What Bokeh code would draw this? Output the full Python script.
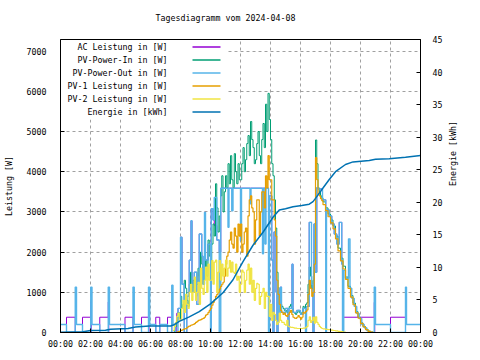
import math
from bokeh.plotting import figure
from bokeh.models import Range1d, LinearAxis, FixedTicker, Label, BoxAnnotation, Arrow
from bokeh.embed import file_html
from bokeh.resources import INLINE

# ---------------- texts ----------------
title_text = "Tagesdiagramm vom 2024-04-08"
y_label = "Leistung [W]"
y2_label = "Energie [kWh]"
series_names = ["AC Leistung in [W]", "PV-Power-In in [W]", "PV-Power-Out in [W]",
                "PV-1 Leistung in [W]", "PV-2 Leistung in [W]", "Energie in [kWh]"]
series_colors = ["#9400D3", "#009E73", "#56B4E9", "#E69F00", "#F0E442", "#0072B2"]

# ---------------- ticks ----------------
x_ticks = [0, 2, 4, 6, 8, 10, 12, 14, 16, 18, 20, 22, 24]
x_tick_labels = ["00:00", "02:00", "04:00", "06:00", "08:00", "10:00", "12:00",
                 "14:00", "16:00", "18:00", "20:00", "22:00", "00:00"]
y_ticks = [0, 1000, 2000, 3000, 4000, 5000, 6000, 7000]
y2_ticks = [0, 5, 10, 15, 20, 25, 30, 35, 40, 45]

# ---------------- data ----------------
ac_times = ["00:00", "00:24", "00:59", "01:28", "02:01", "02:03", "02:37", "03:11", "03:13",
            "04:18", "04:50", "05:24", "05:52", "05:54", "06:21", "06:37", "07:08", "07:25",
            "07:45", "07:50", "08:00", "08:06", "08:15", "08:25", "08:35", "08:42", "08:46",
            "08:55", "09:05", "09:15", "09:25", "09:30", "09:36", "09:40", "09:50", "10:00",
            "10:03", "10:10", "10:15", "10:25", "10:35", "10:41", "13:52", "13:56", "14:05",
            "14:10", "14:14", "14:22", "14:26", "14:30", "14:36", "14:40", "14:44", "15:00",
            "15:10", "15:14", "15:26", "15:30", "15:45", "16:00", "16:10", "16:20", "16:24",
            "16:35", "16:44", "16:50", "16:54", "16:58", "17:05", "17:11", "17:28", "17:41",
            "17:44", "17:55", "18:05", "18:15", "18:25", "18:35", "18:45", "18:48", "18:49",
            "20:55", "20:57", "22:00", "23:00", "24:00"]
ac_watts = [0, 380, 0, 380, 760, 0, 380, 760, 0,
            380, 0, 380, 760, 0, 380, 0, 380, 0,
            480, 600, 2370, 1200, 0, 900, 1800, 2780, 1000,
            1500, 700, 2450, 1900, 1200, 2990, 1800, 2200, 0,
            3080, 2800, 2660, 2300, 2000, 3590, 0, 3400, 1800,
            0, 2500, 1000, 0, 1100, 500, 1130, 500, 600,
            0, 600, 1700, 500, 550, 450, 600, 0, 650,
            2740, 1200, 0, 2700, 1500, 3600, 3570, 3300, 1975,
            3050, 2900, 2700, 2450, 2200, 2740, 1700, 1100, 380,
            750, 0, 380, 0, 0]

out_times = ["00:00", "00:24", "00:59", "01:04", "01:28", "02:01", "02:06", "02:37", "03:11",
             "03:16", "04:18", "04:50", "04:55", "05:24", "05:52", "05:57", "06:21", "06:37",
             "07:08", "07:25", "07:30", "07:40", "07:50", "08:00", "08:06", "08:15", "08:25",
             "08:35", "08:42", "08:46", "08:55", "09:05", "09:15", "09:25", "09:30", "09:36",
             "09:40", "09:50", "10:00", "10:03", "10:10", "10:15", "10:25", "10:35", "10:41",
             "11:10", "11:14", "11:25", "11:30", "12:00", "12:04", "12:38", "12:42", "13:28",
             "13:32", "13:38", "13:42", "13:52", "13:56", "14:05", "14:10", "14:14", "14:22",
             "14:26", "14:30", "14:36", "14:40", "14:44", "15:00", "15:10", "15:14", "15:26",
             "15:30", "15:45", "16:00", "16:10", "16:20", "16:24", "16:35", "16:44", "16:50",
             "16:54", "16:58", "17:05", "17:11", "17:28", "17:41", "17:44", "17:55", "18:05",
             "18:15", "18:25", "18:35", "18:45", "18:48", "18:53", "19:00", "19:12", "19:18",
             "19:25", "19:35", "19:45", "19:55", "20:05", "20:15", "20:25", "20:32", "20:55",
             "21:00", "22:00", "23:00", "23:04", "24:00"]
out_watts = [200, 0, 1130, 200, 0, 1130, 200, 0, 1130,
             200, 0, 1130, 200, 0, 1130, 200, 0, 200,
             0, 1175, 200, 0, 600, 2370, 1200, 0, 900,
             1800, 2780, 1000, 1500, 700, 2450, 1900, 1200, 2990,
             1800, 2200, 0, 3080, 2800, 3360, 2300, 0, 3590,
             2620, 3590, 3030, 3590, 2290, 3590, 3200, 3590, 1960,
             3590, 2200, 3590, 0, 3400, 1800, 0, 2500, 1000,
             0, 1100, 500, 1130, 500, 600, 0, 600, 1700,
             500, 550, 450, 600, 0, 650, 2740, 1200, 0,
             2700, 1500, 3600, 3570, 3300, 0, 3050, 2900, 2700,
             2450, 2200, 2740, 1700, 0, 1550, 1350, 2330, 1100,
             850, 650, 470, 350, 200, 120, 50, 0, 1130,
             200, 0, 1130, 200, 200]

day_times = ["07:30", "07:35", "07:40", "07:45", "07:50", "07:55",
             "08:00", "08:05", "08:10", "08:15", "08:20", "08:25", "08:30", "08:35", "08:40", "08:45", "08:50", "08:55",
             "09:00", "09:05", "09:10", "09:15", "09:20", "09:25", "09:30", "09:35", "09:40", "09:45", "09:50", "09:55",
             "10:00", "10:05", "10:10", "10:15", "10:20", "10:25", "10:30", "10:35", "10:40", "10:45", "10:50", "10:55",
             "11:00", "11:05", "11:10", "11:15", "11:20", "11:25", "11:30", "11:35", "11:40", "11:45", "11:50", "11:55",
             "12:00", "12:05", "12:10", "12:15", "12:20", "12:25", "12:30", "12:35", "12:40", "12:45", "12:50", "12:55",
             "13:00", "13:05", "13:10", "13:15", "13:20", "13:25", "13:30", "13:35", "13:40", "13:45", "13:50", "13:55",
             "14:00", "14:05", "14:10", "14:15", "14:20", "14:25", "14:30", "14:35", "14:40", "14:45", "14:50", "14:55",
             "15:00", "15:05", "15:10", "15:15", "15:20", "15:25", "15:30", "15:35", "15:40", "15:45", "15:50", "15:55",
             "16:00", "16:05", "16:10", "16:15", "16:20", "16:25", "16:30", "16:35", "16:40", "16:45", "16:50", "16:55",
             "17:00", "17:05", "17:10", "17:15", "17:20", "17:25", "17:30",
             "17:40", "17:50", "18:00", "18:10", "18:20", "18:30", "18:40", "18:50",
             "19:00", "19:10", "19:20", "19:30", "19:40", "19:50",
             "20:00", "20:10", "20:20", "20:30", "20:40", "20:50", "21:00"]
pv_in_watts = [0, 60, 150, 300, 500, 350,
               900, 600, 700, 1300, 1100, 800, 650, 1200, 1500, 1000, 1300, 1100,
               900, 1200, 1600, 1400, 2000, 1700, 1200, 1500, 1800, 1400, 2300, 1900,
               1800, 2200, 2700, 2400, 3700, 3100, 2500, 2900, 3400, 3900, 3000, 3500,
               3900, 3600, 4200, 3700, 4400, 3800, 3600, 4450, 4000, 3700, 4200, 3800,
               3800, 4200, 4600, 4000, 4300, 4700, 4900, 4400, 5250, 4800, 4600, 4200,
               4300, 4700, 5000, 4400, 4200, 4800, 5200, 4600, 5680, 5000, 5950, 5300,
               4800, 4200, 3900, 3300, 2600, 1500, 1100, 800, 700, 650, 600, 550,
               550, 500, 600, 650, 700, 600, 500, 480, 450, 500, 550, 500,
               450, 500, 650, 600, 700, 740, 1200, 1630, 1400, 1100, 1300, 1800,
               4790, 4200, 3600, 3500, 3400, 3350, 3250,
               3100, 2950, 2800, 2650, 2400, 2100, 1850, 1650,
               1380, 1150, 920, 730, 520, 380,
               240, 150, 80, 35, 12, 0, 0]
pv1_watts = [0, 0, 0, 10, 20, 30,
             50, 60, 80, 90, 100, 120, 150, 160, 180, 190, 200, 220,
             250, 270, 300, 310, 320, 340, 350, 380, 430, 450, 500, 550,
             600, 680, 750, 820, 900, 950, 1000, 1080, 1150, 1200, 1250, 1400,
             1700, 1900, 2000, 2300, 2500, 2200, 2100, 2600, 2400, 2000, 2700, 2400,
             2700, 2000, 2200, 2500, 2600, 1900, 2900, 3300, 3400, 3100, 3000, 2200,
             2800, 3300, 3300, 2400, 3000, 3500, 3500, 3100, 3900, 3600, 4400, 3800,
             3800, 3300, 3300, 2800, 2400, 1300, 950, 700, 550, 500, 450, 480,
             420, 400, 450, 500, 550, 450, 380, 360, 350, 380, 420, 380,
             330, 380, 500, 480, 520, 560, 950, 1300, 1100, 900, 1000, 1700,
             4350, 3800, 3450, 3400, 3330, 3280, 3180,
             3030, 2880, 2730, 2580, 2330, 2030, 1780, 1580,
             1320, 1100, 880, 690, 490, 360,
             225, 140, 70, 30, 10, 0, 0]
pv2_watts = [50, 150, 250, 400, 480, 300,
             300, 600, 800, 500, 950, 700, 600, 1000, 1200, 800, 1000, 1380,
             800, 1000, 1250, 700, 1600, 1100, 950, 1300, 1630, 1000, 1700, 1300,
             1300, 1790, 1200, 1750, 1800, 1000, 1500, 1790, 1300, 1700, 1400, 1600,
             1800, 1400, 1600, 1790, 1500, 1750, 1500, 1470, 1700, 1300, 1400, 1000,
             1200, 1550, 1500, 1000, 1300, 1550, 1700, 1200, 1600, 1000, 1300, 800,
             1100, 1220, 1200, 700, 900, 1000, 1100, 600, 1000, 900, 900, 400,
             700, 300, 500, 450, 300, 200, 250, 480, 300, 250, 250, 200,
             180, 300, 150, 140, 130, 130, 120, 110, 110, 100, 100, 100,
             100, 100, 110, 110, 120, 150, 300, 390, 250, 300, 380, 230,
             390, 250, 200, 150, 120, 100, 90,
             80, 70, 60, 50, 40, 30, 20, 10,
             0, 0, 0, 0, 0, 0,
             0, 0, 0, 0, 0, 0, 0]

energy_times = ["00:00", "01:30", "02:00", "03:00", "03:20", "04:30", "05:00", "05:55", "07:20",
                "07:35", "07:55", "08:35", "09:15", "10:00", "10:50", "11:30", "12:10", "12:50",
                "13:30", "14:10", "14:35", "15:00", "15:30", "16:05", "16:35", "16:50", "17:00",
                "17:30", "17:55", "18:20", "19:00", "19:30", "20:35", "21:00", "21:55", "23:00",
                "24:00"]
energy_kwh = [0.05, 0.1, 0.3, 0.35, 0.5, 0.6, 0.85, 1.0, 1.0,
              1.2, 1.7, 2.4, 3.2, 4.4, 6.1, 8.1, 10.9, 13.4,
              15.4, 17.7, 18.8, 19.0, 19.3, 19.5, 19.7, 20.1, 20.6,
              22.2, 23.5, 24.7, 25.8, 26.2, 26.4, 26.6, 26.7, 26.9,
              27.2]


def hours(times):
    return [int(t[:2]) + int(t[3:]) / 60.0 for t in times]


FONT = "DejaVu Sans Mono"
FSIZE = "8.3px"

p = figure(frame_width=360, frame_height=293,
           x_range=Range1d(0, 24), y_range=Range1d(0, 7290),
           output_backend="svg", toolbar_location=None,
           min_border_left=58, min_border_right=62, min_border_top=39, min_border_bottom=28,
           background_fill_color="white", border_fill_color="white")
p.extra_y_ranges = {"energy": Range1d(0, 45)}
p.outline_line_color = "black"
p.outline_line_width = 1

# grid
p.xgrid.ticker = FixedTicker(ticks=x_ticks)
p.ygrid.ticker = FixedTicker(ticks=y_ticks)
for g in (p.xgrid[0], p.ygrid[0]):
    g.grid_line_color = "#a0a0a0"
    g.grid_line_dash = "3 3"
    g.grid_line_width = 1

# axes
p.xaxis.ticker = FixedTicker(ticks=x_ticks)
p.xaxis.major_label_overrides = {t: lab for t, lab in zip(x_ticks, x_tick_labels)}
p.yaxis.ticker = FixedTicker(ticks=y_ticks)
p.yaxis.axis_label = y_label
ax2 = LinearAxis(y_range_name="energy", ticker=FixedTicker(ticks=y2_ticks))
p.add_layout(ax2, "right")

for ax, standoff, lstand in ((p.xaxis[0], 6, 5), (p.yaxis[0], 14, 10), (ax2, 12, 9)):
    ax.major_tick_in = 4
    ax.major_tick_out = 0
    ax.minor_tick_line_color = None
    ax.axis_line_color = "black"
    ax.major_tick_line_color = "black"
    ax.major_label_text_font = FONT
    ax.major_label_text_font_size = FSIZE
    ax.major_label_text_color = "black"
    ax.major_label_standoff = standoff
    ax.axis_label_text_font = FONT
    ax.axis_label_text_font_size = FSIZE
    ax.axis_label_text_font_style = "normal"
    ax.axis_label_text_color = "black"
    ax.axis_label_standoff = lstand

# right-hand axis title, reading bottom-to-top like the left one
ax_title = LinearAxis(y_range_name="energy", ticker=FixedTicker(ticks=[22.5]),
                      major_label_overrides={22.5: y2_label},
                      major_label_orientation=math.pi / 2,
                      axis_line_color=None, major_tick_line_color=None,
                      minor_tick_line_color=None, major_label_standoff=1,
                      major_label_text_font=FONT, major_label_text_font_size=FSIZE,
                      major_label_text_color="black")
p.add_layout(ax_title, "right")

# chart title, placed above the frame
title_axis = LinearAxis(ticker=FixedTicker(ticks=[11]),
                        major_label_overrides={11: title_text},
                        axis_line_color=None, major_tick_line_color=None,
                        minor_tick_line_color=None, major_label_standoff=11,
                        major_label_text_font=FONT, major_label_text_font_size=FSIZE,
                        major_label_text_color="black")
p.add_layout(title_axis, "above")

# series (drawn in legend order)
p.step(hours(ac_times), ac_watts, mode="after", line_color=series_colors[0], line_width=1.0)
p.step(hours(day_times), pv_in_watts, mode="after", line_color=series_colors[1], line_width=1.0)
p.step(hours(out_times), out_watts, mode="after", line_color=series_colors[2], line_width=1.4)
p.step(hours(day_times), pv1_watts, mode="after", line_color=series_colors[3], line_width=1.2)
p.step(hours(day_times), pv2_watts, mode="after", line_color=series_colors[4], line_width=1.2)
p.line(hours(energy_times), energy_kwh, y_range_name="energy",
       line_color=series_colors[5], line_width=1.5)

# key box (opaque, no border)
p.add_layout(BoxAnnotation(left=0.5, right=166, top=292.5, bottom=213,
                           left_units="screen", right_units="screen",
                           top_units="screen", bottom_units="screen",
                           fill_color="white", fill_alpha=1.0, line_color=None))
for i, (name, col) in enumerate(zip(series_names, series_colors)):
    sy = 285.5 - 13 * i
    p.add_layout(Label(x=107, y=sy, x_units="screen", y_units="screen", text=name,
                       text_font=FONT, text_font_size=FSIZE, text_align="right",
                       text_baseline="middle", text_color="black"))
    p.add_layout(Arrow(x_start=132, y_start=sy, x_end=160, y_end=sy,
                       start_units="screen", end_units="screen",
                       start=None, end=None, line_color=col, line_width=1.5))

open("out.html", "w").write(file_html(p, INLINE))
